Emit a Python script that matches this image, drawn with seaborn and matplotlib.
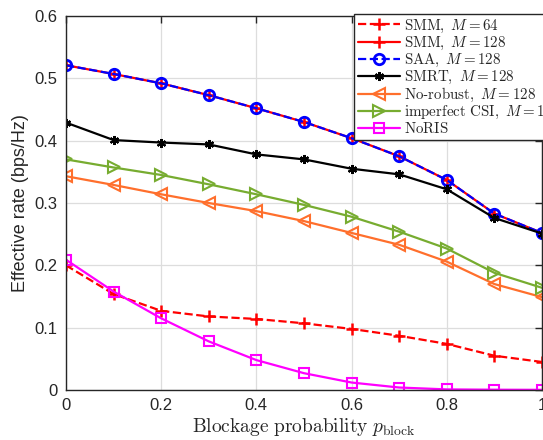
import numpy as np
import pandas as pd
import matplotlib
matplotlib.use("Agg")
import matplotlib.pyplot as plt
from matplotlib.ticker import FormatStrFormatter
import seaborn as sns

# blockage probability
p_block = [0.0, 0.1, 0.2, 0.3, 0.4, 0.5, 0.6, 0.7, 0.8, 0.9, 1.0]

# effective rate (bps/Hz)
smm_64 = [0.200, 0.154, 0.127, 0.118, 0.114, 0.107, 0.098, 0.087, 0.074, 0.055, 0.045]
smm_128 = [0.521, 0.507, 0.492, 0.473, 0.452, 0.430, 0.404, 0.375, 0.337, 0.283, 0.252]
saa_128 = [0.521, 0.507, 0.492, 0.473, 0.452, 0.430, 0.404, 0.375, 0.337, 0.283, 0.252]
smrt_128 = [0.429, 0.401, 0.397, 0.394, 0.378, 0.370, 0.355, 0.346, 0.322, 0.276, 0.251]
norobust_128 = [0.343, 0.329, 0.314, 0.300, 0.287, 0.271, 0.252, 0.233, 0.206, 0.170, 0.149]
imperfect_128 = [0.370, 0.357, 0.345, 0.330, 0.314, 0.297, 0.278, 0.254, 0.227, 0.188, 0.164]
noris = [0.209, 0.158, 0.115, 0.078, 0.048, 0.027, 0.012, 0.004, 0.001, 0.0005, 0.0003]

sns.set_style("white")
plt.rcParams['font.family'] = ['Liberation Sans', 'DejaVu Sans']
plt.rcParams['mathtext.fontset'] = 'cm'

fig = plt.figure(figsize=(5.43, 4.4), dpi=100)
ax = fig.add_axes([0.1215, 0.1136, 0.8766, 0.85])

# (label, values, color, linestyle, marker, filled)
series = [
    (r'$\mathrm{SMM},\ M=64$', smm_64, 'red', '--', '+', True),
    (r'$\mathrm{SMM},\ M=128$', smm_128, 'red', '-', '+', True),
    (r'$\mathrm{SAA},\ M=128$', saa_128, 'blue', '--', 'o', False),
    (r'$\mathrm{SMRT},\ M=128$', smrt_128, 'black', '-', (6, 2, 0), True),
    (r'$\mathrm{No}$-$\mathrm{robust},\ M=128$', norobust_128, '#FF6F2C', '-', '<', False),
    (r'$\mathrm{imperfect\ CSI},\ M=128$', imperfect_128, '#77AC30', '-', '>', False),
    (r'$\mathrm{NoRIS}$', noris, '#FF00FF', '-', 's', False),
]

for label, vals, col, ls, mk, filled in series:
    df = pd.DataFrame({'p': p_block, 'rate': vals})
    kw = dict(marker=mk, markersize=6.5, markeredgewidth=1.5, markeredgecolor=col)
    if mk == '+':
        kw.update(markersize=8, markeredgewidth=1.8)
    if mk == 'o':
        kw.update(markersize=7.5, markeredgewidth=2.0)
    if mk in ('<', '>'):
        kw.update(markersize=8)
    kw['markerfacecolor'] = col if filled else 'none'
    if ls == '--':
        kw['dashes'] = (5, 3.5)
    sns.lineplot(data=df, x='p', y='rate', ax=ax, color=col, linestyle=ls,
                 linewidth=1.6, label=label, **kw)

ax.set_xlim(0, 1)
ax.set_ylim(0, 0.6)
ax.set_xticks(np.arange(0, 1.01, 0.2))
ax.set_yticks(np.arange(0, 0.61, 0.1))
ax.xaxis.set_major_formatter(FormatStrFormatter('%g'))
ax.yaxis.set_major_formatter(FormatStrFormatter('%g'))
ax.grid(True, color='#DDDDDD', linewidth=0.9)
ax.tick_params(direction='in', length=5, width=1, colors='#262626', labelsize=12,
               top=True, right=True, labeltop=False, labelright=False, pad=6)
for s in ax.spines.values():
    s.set_color('#262626')
    s.set_linewidth(1.0)

ax.set_xlabel(r'$\mathrm{Blockage\ probability}\ p_{\mathrm{block}}$', fontsize=14,
              color='#262626', labelpad=2)
ax.set_ylabel('Effective rate (bps/Hz)', fontsize=13, color='#262626', labelpad=4)

leg = ax.legend(loc='upper left', bbox_to_anchor=(0.605, 1.006), fontsize=10.8,
                frameon=True, fancybox=False, framealpha=1, edgecolor='#262626',
                handlelength=2.8, handletextpad=0.3, labelspacing=0.0,
                borderpad=0.25, borderaxespad=0.0)
leg.get_frame().set_linewidth(1.0)

fig.savefig('out.png', dpi=100)
